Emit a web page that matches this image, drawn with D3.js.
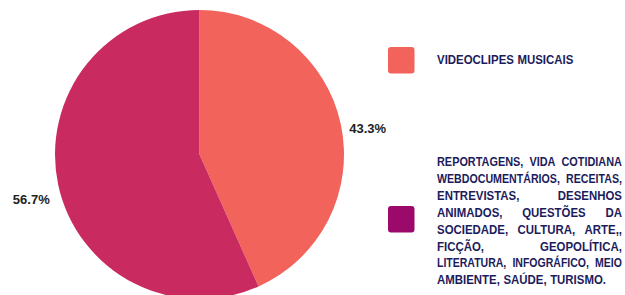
<!DOCTYPE html>
<html>
<head>
<meta charset="utf-8">
<script src="https://cdn.jsdelivr.net/npm/d3@7"></script>
<style>
  html, body { margin: 0; padding: 0; background: #ffffff; }
  svg { display: block; }
</style>
</head>
<body>
<div id="chart"></div>
<script>
// data
var categories = ["VIDEOCLIPES MUSICAIS", "REPORTAGENS, VIDA COTIDIANA WEBDOCUMENTÁRIOS, RECEITAS, ENTREVISTAS, DESENHOS ANIMADOS, QUESTÕES DA SOCIEDADE, CULTURA, ARTE,, FICÇÃO, GEOPOLÍTICA, LITERATURA, INFOGRÁFICO, MEIO AMBIENTE, SAÚDE, TURISMO."];
var values = [43.3, 56.7];
var pieColors = ["#f1635b", "#c92b60"];
var legendColors = ["#f1635b", "#9b0a6b"];
// legend lines as laid out in the picture
var legendLines = [
  ["VIDEOCLIPES MUSICAIS"],
  ["REPORTAGENS, VIDA COTIDIANA",
   "WEBDOCUMENTÁRIOS, RECEITAS,",
   "ENTREVISTAS, DESENHOS",
   "ANIMADOS, QUESTÕES DA",
   "SOCIEDADE, CULTURA, ARTE,,",
   "FICÇÃO, GEOPOLÍTICA,",
   "LITERATURA, INFOGRÁFICO, MEIO",
   "AMBIENTE, SAÚDE, TURISMO."]
];

var width = 625, height = 295;
var cx = 199.5, cy = 154.5, radius = 144.5;

var svg = d3.select("#chart").append("svg")
  .attr("width", width)
  .attr("height", height);

var pie = d3.pie().sort(null).value(function(d) { return d; });
var arc = d3.arc().innerRadius(0).outerRadius(radius);
var labelArc = d3.arc().innerRadius(172).outerRadius(172);

var g = svg.append("g").attr("transform", "translate(" + cx + "," + cy + ")");

var arcs = pie(values);

g.selectAll("path.slice")
  .data(arcs)
  .enter().append("path")
  .attr("class", "slice")
  .attr("d", arc)
  .style("fill", function(d, i) { return pieColors[i]; });

// percent labels
g.selectAll("text.pct")
  .data(arcs)
  .enter().append("text")
  .attr("class", "pct")
  .attr("transform", function(d) { return "translate(" + labelArc.centroid(d) + ")"; })
  .attr("dy", "14px")
  .attr("text-anchor", "middle")
  .style("font-family", "'Liberation Sans', Arial, sans-serif")
  .style("font-weight", "bold")
  .style("font-size", "13px")
  .style("fill", "#222222")
  .text(function(d) { return d.value.toFixed(1) + "%"; });

// legend
var legendX = 388, textX = 437, textRight = 622;
var boxY = [47, 206];
var firstLineY = [64, 166];
var lineStep = 16.9;
var minGap = 6;
var fontCss = "'Liberation Sans', Arial, sans-serif";

function wordText(str) {
  return svg.append("text")
    .style("font-family", fontCss)
    .style("font-weight", "bold")
    .style("font-size", "12px")
    .style("fill", "#1c1c5c")
    .text(str);
}

// the picture uses a condensed face: squeeze words so the first label spans 136px
var probe = wordText(legendLines[0][0]);
var squeeze = 136 / probe.node().getComputedTextLength();
probe.remove();

for (var i = 0; i < categories.length; i++) {
  svg.append("rect")
    .attr("x", legendX)
    .attr("y", boxY[i])
    .attr("width", 26.5)
    .attr("height", 26.5)
    .attr("rx", 3)
    .style("fill", legendColors[i]);

  var lines = legendLines[i];
  for (var j = 0; j < lines.length; j++) {
    var words = lines[j].split(" ");
    var y = firstLineY[i] + j * lineStep;
    var justify = lines.length > 1 && j < lines.length - 1;

    var items = [];
    var total = 0;
    for (var k = 0; k < words.length; k++) {
      var t = wordText(words[k]);
      var nat = t.node().getComputedTextLength();
      items.push({ node: t, nat: nat });
      total += nat * squeeze;
    }
    // if a line is too long for the box, squeeze it a bit more
    var avail = textRight - textX;
    var sx = squeeze * Math.min(1, (avail - minGap * (words.length - 1)) / total);
    total = 0;
    items.forEach(function(it) { it.w = it.nat * sx; total += it.w; });
    var gap = justify && words.length > 1 ? (avail - total) / (words.length - 1) : 3.5;
    var x = textX;
    items.forEach(function(it) {
      it.node.attr("transform", "translate(" + x + "," + y + ") scale(" + sx + ",1)");
      x += it.w + gap;
    });
  }
}
</script>
</body>
</html>
